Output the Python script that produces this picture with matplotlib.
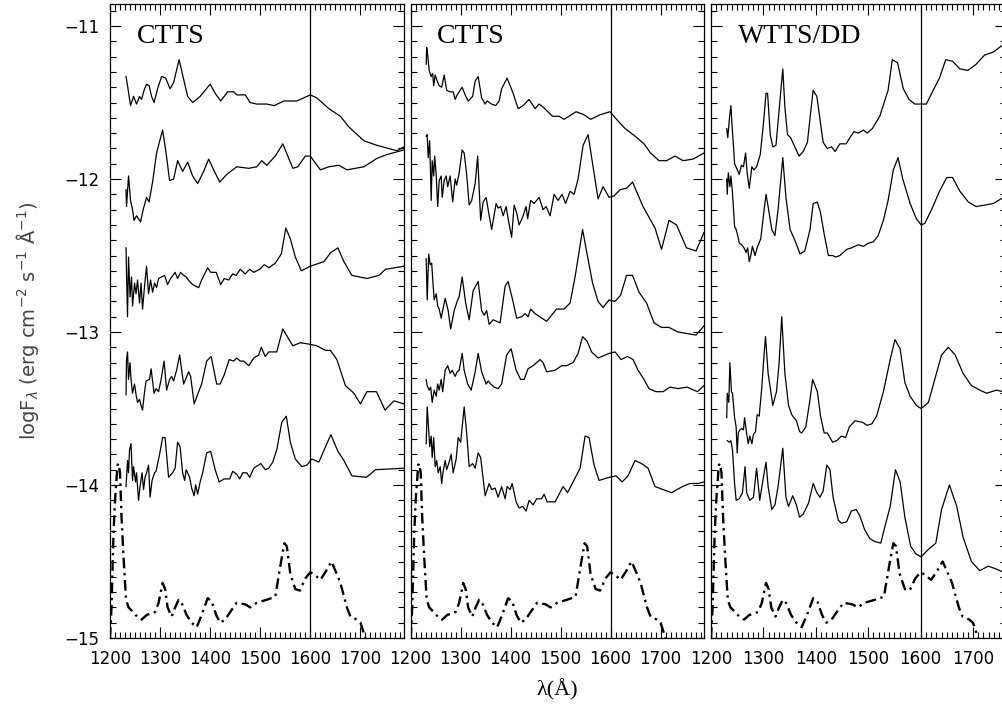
"""Far-UV spectra of CTTS and WTTS/DD, with the template spectrum."""
import matplotlib

matplotlib.use("Agg")
import matplotlib.pyplot as plt
import numpy as np
from matplotlib.ticker import MultipleLocator

# ---- data: (wavelength [A], log flux) ----
template = np.array([
    (1200, -15.0), (1203, -14.80), (1207, -14.32), (1210, -14.10), (1215, -13.87),
    (1217, -13.86), (1220, -13.92), (1223, -14.21), (1227, -14.47), (1232, -14.75),
    (1237, -14.80), (1243, -14.82), (1257, -14.87), (1263, -14.88), (1273, -14.85),
    (1290, -14.83), (1297, -14.77), (1305, -14.64), (1310, -14.68), (1315, -14.80),
    (1323, -14.86), (1330, -14.80), (1337, -14.75), (1343, -14.77), (1353, -14.85),
    (1363, -14.90), (1373, -14.93), (1383, -14.85), (1395, -14.74), (1403, -14.76),
    (1412, -14.85), (1420, -14.90), (1430, -14.88), (1440, -14.83), (1453, -14.77),
    (1470, -14.78), (1480, -14.80), (1493, -14.77), (1513, -14.75), (1530, -14.73),
    (1540, -14.53), (1548, -14.38), (1553, -14.40), (1560, -14.58), (1570, -14.68),
    (1579, -14.69), (1590, -14.61), (1600, -14.57), (1610, -14.59), (1620, -14.62),
    (1630, -14.57), (1642, -14.50), (1650, -14.56), (1660, -14.64), (1673, -14.80),
    (1680, -14.86), (1693, -14.88), (1700, -14.90), (1707, -14.97), (1710, -15.0),
])

ctts1_a = np.array([
    (1232, -11.33), (1235, -11.39), (1241, -11.52), (1247, -11.46), (1253, -11.51),
    (1259, -11.46), (1263, -11.48), (1268, -11.42), (1273, -11.38), (1278, -11.39),
    (1283, -11.46), (1288, -11.50), (1295, -11.41), (1303, -11.33), (1311, -11.34),
    (1320, -11.41), (1327, -11.37), (1338, -11.22), (1345, -11.32), (1355, -11.46),
    (1365, -11.50), (1380, -11.46), (1400, -11.38), (1410, -11.44), (1421, -11.49),
    (1435, -11.43), (1447, -11.43), (1453, -11.45), (1470, -11.45), (1480, -11.50),
    (1493, -11.51), (1513, -11.51), (1528, -11.52), (1547, -11.49), (1573, -11.49),
    (1600, -11.45), (1613, -11.47), (1637, -11.54), (1660, -11.59), (1677, -11.66),
    (1707, -11.75), (1733, -11.78), (1773, -11.815), (1787, -11.79),
])
ctts1_b = np.array([
    (1232, -12.07), (1233, -12.18), (1237, -11.98), (1241, -12.14), (1245, -12.20),
    (1248, -12.27), (1253, -12.24), (1261, -12.28), (1267, -12.19), (1273, -12.12),
    (1278, -12.15), (1285, -12.02), (1293, -11.83), (1305, -11.68), (1312, -11.83),
    (1319, -12.01), (1327, -12.00), (1335, -11.88), (1345, -11.95), (1355, -11.89),
    (1365, -11.98), (1375, -12.03), (1387, -11.95), (1397, -11.87), (1407, -11.94),
    (1419, -12.02), (1433, -11.97), (1453, -11.92), (1477, -11.93), (1493, -11.92),
    (1503, -11.88), (1513, -11.91), (1530, -11.85), (1545, -11.77), (1555, -11.85),
    (1565, -11.93), (1575, -11.92), (1590, -11.85), (1600, -11.85), (1620, -11.94),
    (1637, -11.92), (1657, -11.91), (1673, -11.94), (1707, -11.92), (1733, -11.865),
    (1753, -11.84), (1787, -11.81),
])
ctts1_c = np.array([
    (1232, -12.45), (1233, -12.62), (1235, -12.90), (1237, -12.51), (1240, -12.77),
    (1243, -12.64), (1245, -12.83), (1249, -12.68), (1252, -12.75), (1255, -12.66),
    (1259, -12.81), (1262, -12.68), (1265, -12.85), (1269, -12.70), (1273, -12.57),
    (1277, -12.75), (1281, -12.66), (1285, -12.74), (1289, -12.68), (1293, -12.71),
    (1297, -12.65), (1303, -12.64), (1309, -12.63), (1315, -12.69), (1321, -12.65),
    (1330, -12.61), (1335, -12.65), (1341, -12.61), (1347, -12.63), (1352, -12.64),
    (1359, -12.67), (1365, -12.69), (1377, -12.71), (1383, -12.66), (1395, -12.58),
    (1401, -12.61), (1412, -12.61), (1421, -12.69), (1428, -12.65), (1437, -12.66),
    (1445, -12.62), (1452, -12.63), (1460, -12.59), (1470, -12.62), (1479, -12.59),
    (1487, -12.61), (1499, -12.59), (1508, -12.56), (1517, -12.58), (1530, -12.55),
    (1542, -12.49), (1551, -12.32), (1560, -12.39), (1570, -12.51), (1582, -12.60),
    (1600, -12.57), (1627, -12.54), (1641, -12.48), (1655, -12.45), (1667, -12.54),
    (1683, -12.63), (1713, -12.65), (1737, -12.63), (1750, -12.59), (1787, -12.57),
])
ctts1_d = np.array([
    (1232, -13.41), (1233, -13.18), (1235, -13.13), (1237, -13.31), (1240, -13.20),
    (1242, -13.31), (1245, -13.40), (1249, -13.34), (1252, -13.41), (1255, -13.46),
    (1259, -13.44), (1262, -13.48), (1265, -13.51), (1269, -13.39), (1272, -13.32),
    (1279, -13.31), (1282, -13.24), (1288, -13.40), (1292, -13.37), (1297, -13.39),
    (1302, -13.31), (1308, -13.19), (1313, -13.38), (1319, -13.31), (1323, -13.29),
    (1327, -13.32), (1333, -13.25), (1339, -13.15), (1347, -13.34), (1357, -13.26),
    (1361, -13.29), (1368, -13.47), (1377, -13.39), (1383, -13.34), (1393, -13.19),
    (1402, -13.16), (1413, -13.34), (1420, -13.34), (1428, -13.28), (1438, -13.18),
    (1447, -13.19), (1453, -13.17), (1460, -13.19), (1467, -13.19), (1477, -13.22),
    (1487, -13.17), (1497, -13.15), (1502, -13.10), (1510, -13.16), (1517, -13.13),
    (1533, -13.13), (1545, -12.98), (1565, -13.09), (1580, -13.07), (1599, -13.08),
    (1613, -13.09), (1630, -13.12), (1640, -13.12), (1653, -13.18), (1670, -13.35),
    (1687, -13.40), (1700, -13.47), (1713, -13.39), (1732, -13.39), (1749, -13.51),
    (1767, -13.45), (1787, -13.47),
])
ctts1_e = np.array([
    (1232, -14.01), (1235, -13.84), (1237, -13.92), (1239, -13.77), (1242, -13.73),
    (1245, -13.97), (1247, -13.88), (1251, -13.98), (1253, -13.92), (1257, -14.10),
    (1260, -14.01), (1264, -13.92), (1267, -14.03), (1270, -13.95), (1273, -13.92),
    (1277, -13.87), (1280, -14.08), (1284, -13.97), (1289, -13.92), (1292, -13.91),
    (1299, -13.80), (1305, -13.69), (1310, -13.69), (1317, -13.95), (1325, -13.92),
    (1330, -13.89), (1335, -13.72), (1340, -13.75), (1345, -13.92), (1349, -13.97),
    (1352, -13.90), (1359, -13.95), (1363, -14.02), (1368, -14.07), (1371, -14.00),
    (1375, -14.06), (1380, -13.98), (1385, -13.92), (1393, -13.79), (1401, -13.78),
    (1410, -13.90), (1418, -13.98), (1428, -13.96), (1439, -13.96), (1445, -13.91),
    (1453, -13.93), (1459, -13.96), (1465, -13.92), (1473, -13.92), (1479, -13.95),
    (1487, -13.89), (1501, -13.86), (1510, -13.90), (1517, -13.89), (1525, -13.85),
    (1533, -13.77), (1543, -13.59), (1552, -13.55), (1560, -13.72), (1570, -13.83),
    (1583, -13.88), (1593, -13.87), (1603, -13.83), (1617, -13.85), (1641, -13.67),
    (1655, -13.78), (1667, -13.84), (1683, -13.94), (1712, -13.95), (1730, -13.90),
    (1787, -13.89),
])

ctts2_a = np.array([
    (1231, -11.25), (1232, -11.14), (1234, -11.19), (1237, -11.29), (1241, -11.33),
    (1244, -11.31), (1246, -11.39), (1249, -11.32), (1253, -11.36), (1257, -11.39),
    (1262, -11.40), (1267, -11.32), (1272, -11.42), (1279, -11.43), (1285, -11.43),
    (1289, -11.48), (1293, -11.45), (1299, -11.42), (1303, -11.40), (1309, -11.45),
    (1315, -11.49), (1324, -11.46), (1329, -11.36), (1335, -11.33), (1342, -11.47),
    (1349, -11.51), (1353, -11.49), (1362, -11.51), (1370, -11.52), (1377, -11.49),
    (1382, -11.41), (1393, -11.34), (1405, -11.44), (1415, -11.54), (1425, -11.52),
    (1437, -11.48), (1449, -11.54), (1457, -11.51), (1465, -11.53), (1484, -11.59),
    (1497, -11.59), (1507, -11.61), (1531, -11.56), (1547, -11.58), (1560, -11.61),
    (1579, -11.58), (1599, -11.56), (1612, -11.61), (1629, -11.67), (1649, -11.72),
    (1667, -11.77), (1680, -11.83), (1697, -11.88), (1712, -11.88), (1729, -11.85),
    (1745, -11.88), (1765, -11.87), (1787, -11.83),
])
ctts2_b = np.array([
    (1231, -11.72), (1233, -11.71), (1235, -11.86), (1238, -11.75), (1241, -12.14),
    (1243, -11.88), (1246, -11.98), (1248, -11.85), (1251, -11.97), (1254, -12.18),
    (1257, -12.01), (1261, -11.98), (1263, -12.12), (1267, -12.01), (1271, -11.98),
    (1274, -12.05), (1279, -11.98), (1284, -12.15), (1289, -12.00), (1292, -12.04),
    (1297, -11.96), (1303, -11.81), (1307, -11.83), (1311, -11.94), (1313, -12.01),
    (1317, -12.17), (1322, -12.14), (1329, -12.03), (1334, -11.85), (1340, -12.27),
    (1345, -12.15), (1351, -12.12), (1355, -12.20), (1362, -12.33), (1371, -12.16),
    (1375, -12.19), (1380, -12.18), (1385, -12.24), (1391, -12.18), (1395, -12.26),
    (1402, -12.38), (1407, -12.17), (1412, -12.22), (1417, -12.30), (1424, -12.25),
    (1431, -12.18), (1434, -12.26), (1440, -12.14), (1447, -12.16), (1457, -12.12),
    (1465, -12.20), (1471, -12.18), (1479, -12.24), (1487, -12.10), (1495, -12.14),
    (1503, -12.10), (1510, -12.16), (1519, -12.08), (1527, -12.10), (1535, -12.00),
    (1545, -11.78), (1555, -11.71), (1565, -11.92), (1575, -12.13), (1585, -12.05),
    (1597, -12.12), (1607, -12.11), (1619, -12.07), (1632, -12.06), (1644, -12.02),
    (1665, -12.18), (1689, -12.32), (1702, -12.46), (1717, -12.27), (1732, -12.30),
    (1752, -12.45), (1771, -12.47), (1787, -12.35),
])
ctts2_c = np.array([
    (1231, -12.52), (1233, -12.79), (1236, -12.49), (1239, -12.56), (1242, -12.55),
    (1245, -12.70), (1247, -12.79), (1251, -12.75), (1254, -12.83), (1257, -12.85),
    (1261, -12.91), (1264, -12.86), (1269, -12.78), (1275, -12.86), (1280, -12.98),
    (1287, -12.86), (1293, -12.80), (1297, -12.77), (1303, -12.64), (1310, -12.81),
    (1317, -12.92), (1325, -12.73), (1335, -12.67), (1342, -12.86), (1347, -12.89),
    (1352, -12.86), (1357, -12.95), (1365, -12.92), (1379, -12.94), (1389, -12.70),
    (1395, -12.67), (1404, -12.79), (1412, -12.91), (1422, -12.90), (1429, -12.88),
    (1435, -12.90), (1440, -12.85), (1449, -12.88), (1472, -12.93), (1492, -12.85),
    (1507, -12.85), (1519, -12.81), (1529, -12.64), (1544, -12.33), (1553, -12.49),
    (1564, -12.68), (1575, -12.80), (1585, -12.84), (1597, -12.79), (1609, -12.80),
    (1620, -12.76), (1632, -12.63), (1644, -12.63), (1657, -12.74), (1672, -12.81),
    (1687, -12.94), (1702, -12.97), (1717, -12.97), (1735, -13.00), (1771, -13.02),
    (1787, -12.96),
])
ctts2_d = np.array([
    (1231, -13.31), (1233, -13.35), (1237, -13.38), (1240, -13.36), (1243, -13.46),
    (1247, -13.38), (1251, -13.42), (1254, -13.34), (1257, -13.38), (1261, -13.31),
    (1264, -13.39), (1269, -13.25), (1274, -13.22), (1279, -13.27), (1283, -13.25),
    (1289, -13.29), (1293, -13.26), (1297, -13.25), (1303, -13.14), (1307, -13.25),
    (1314, -13.34), (1321, -13.38), (1329, -13.26), (1335, -13.14), (1342, -13.26),
    (1351, -13.34), (1355, -13.32), (1360, -13.34), (1367, -13.36), (1375, -13.37),
    (1382, -13.34), (1392, -13.15), (1401, -13.11), (1411, -13.25), (1420, -13.31),
    (1427, -13.31), (1435, -13.24), (1445, -13.22), (1459, -13.18), (1465, -13.20),
    (1472, -13.26), (1489, -13.25), (1502, -13.22), (1512, -13.22), (1525, -13.20),
    (1535, -13.14), (1544, -13.03), (1553, -13.06), (1562, -13.13), (1575, -13.17),
    (1597, -13.14), (1609, -13.13), (1621, -13.18), (1634, -13.16), (1645, -13.18),
    (1655, -13.25), (1665, -13.30), (1677, -13.37), (1691, -13.39), (1705, -13.39),
    (1719, -13.36), (1735, -13.37), (1753, -13.36), (1774, -13.39), (1787, -13.35),
])
ctts2_e = np.array([
    (1231, -13.73), (1233, -13.49), (1236, -13.64), (1238, -13.75), (1241, -13.68),
    (1243, -13.82), (1246, -13.69), (1249, -13.88), (1252, -13.84), (1255, -13.92),
    (1259, -13.88), (1262, -13.99), (1265, -13.91), (1269, -13.84), (1272, -13.90),
    (1277, -13.85), (1281, -13.80), (1285, -13.92), (1291, -13.83), (1295, -13.69),
    (1300, -13.72), (1307, -13.49), (1312, -13.66), (1317, -13.88), (1324, -13.86),
    (1329, -13.89), (1335, -13.79), (1340, -13.82), (1349, -14.07), (1357, -13.99),
    (1362, -14.03), (1369, -14.02), (1375, -14.08), (1382, -14.01), (1389, -14.09),
    (1393, -14.01), (1399, -14.03), (1403, -13.99), (1411, -14.11), (1417, -14.15),
    (1424, -14.14), (1431, -14.17), (1437, -14.10), (1445, -14.13), (1452, -14.09),
    (1462, -14.09), (1467, -14.06), (1473, -14.11), (1489, -14.11), (1505, -14.01),
    (1514, -14.05), (1525, -13.98), (1539, -13.89), (1549, -13.68), (1557, -13.69),
    (1567, -13.87), (1577, -13.97), (1597, -13.95), (1611, -13.94), (1623, -13.98),
    (1635, -13.94), (1649, -13.84), (1662, -13.86), (1675, -13.89), (1689, -14.01),
    (1705, -14.03), (1722, -14.05), (1744, -14.01), (1759, -13.99), (1775, -13.99),
    (1787, -13.98),
])

wtts_a = np.array([
    (1230, -11.67), (1232, -11.73), (1235, -11.61), (1238, -11.52), (1240, -11.64),
    (1243, -11.79), (1245, -11.90), (1249, -11.93), (1254, -11.97), (1258, -11.91),
    (1262, -11.92), (1266, -11.83), (1269, -11.96), (1273, -12.06), (1278, -11.92),
    (1282, -11.94), (1287, -11.92), (1294, -11.84), (1300, -11.64), (1305, -11.44),
    (1308, -11.44), (1313, -11.71), (1318, -11.79), (1324, -11.78), (1330, -11.55),
    (1337, -11.28), (1341, -11.53), (1346, -11.71), (1352, -11.73), (1360, -11.79),
    (1368, -11.85), (1376, -11.82), (1384, -11.76), (1390, -11.57), (1395, -11.42),
    (1402, -11.46), (1408, -11.61), (1414, -11.76), (1422, -11.80), (1430, -11.79),
    (1437, -11.82), (1446, -11.77), (1458, -11.77), (1465, -11.73), (1473, -11.69),
    (1481, -11.70), (1491, -11.68), (1498, -11.70), (1508, -11.67), (1522, -11.59),
    (1538, -11.42), (1546, -11.22), (1556, -11.24), (1567, -11.41), (1578, -11.48),
    (1589, -11.51), (1601, -11.51), (1611, -11.51), (1624, -11.42), (1636, -11.34),
    (1648, -11.22), (1661, -11.23), (1675, -11.28), (1690, -11.29), (1706, -11.25),
    (1722, -11.19), (1739, -11.17), (1758, -11.12),
])
wtts_b = np.array([
    (1230, -12.00), (1231, -12.10), (1233, -11.96), (1236, -12.05), (1238, -11.98),
    (1241, -12.09), (1245, -12.31), (1248, -12.33), (1251, -12.37), (1254, -12.42),
    (1259, -12.43), (1263, -12.45), (1267, -12.48), (1270, -12.45), (1273, -12.54),
    (1276, -12.50), (1279, -12.44), (1284, -12.50), (1288, -12.45), (1295, -12.39),
    (1300, -12.24), (1305, -12.10), (1309, -12.18), (1316, -12.33), (1322, -12.37),
    (1328, -12.20), (1337, -11.86), (1343, -12.12), (1351, -12.33), (1360, -12.40),
    (1370, -12.49), (1379, -12.47), (1389, -12.33), (1395, -12.16), (1403, -12.15),
    (1409, -12.22), (1416, -12.36), (1424, -12.50), (1432, -12.50), (1438, -12.51),
    (1446, -12.50), (1459, -12.46), (1468, -12.45), (1481, -12.43), (1491, -12.44),
    (1500, -12.42), (1510, -12.41), (1519, -12.37), (1529, -12.27), (1538, -12.14),
    (1548, -11.94), (1557, -11.86), (1566, -12.00), (1580, -12.16), (1592, -12.26),
    (1601, -12.30), (1608, -12.29), (1621, -12.20), (1636, -12.08), (1650, -11.99),
    (1661, -11.99), (1675, -12.08), (1691, -12.15), (1706, -12.18), (1723, -12.17),
    (1739, -12.16), (1758, -12.12),
])
wtts_c = np.array([
    (1230, -13.56), (1231, -13.40), (1234, -13.46), (1236, -13.20), (1239, -13.39),
    (1241, -13.40), (1245, -13.56), (1248, -13.62), (1250, -13.79), (1252, -13.66),
    (1255, -13.64), (1259, -13.63), (1262, -13.64), (1264, -13.56), (1268, -13.66),
    (1271, -13.73), (1274, -13.68), (1278, -13.73), (1281, -13.67), (1285, -13.65),
    (1288, -13.54), (1292, -13.55), (1297, -13.36), (1301, -13.16), (1304, -13.03),
    (1309, -13.27), (1318, -13.48), (1325, -13.39), (1330, -13.20), (1335, -12.90),
    (1341, -13.27), (1348, -13.48), (1354, -13.54), (1363, -13.58), (1369, -13.65),
    (1373, -13.66), (1381, -13.62), (1389, -13.44), (1394, -13.31), (1403, -13.39),
    (1409, -13.55), (1416, -13.66), (1422, -13.66), (1432, -13.72), (1440, -13.71),
    (1449, -13.68), (1457, -13.69), (1464, -13.62), (1475, -13.58), (1489, -13.59),
    (1498, -13.61), (1507, -13.60), (1516, -13.55), (1529, -13.39), (1542, -13.18),
    (1551, -13.05), (1561, -13.11), (1570, -13.33), (1580, -13.42), (1592, -13.48),
    (1601, -13.50), (1615, -13.46), (1627, -13.31), (1640, -13.15), (1653, -13.10),
    (1666, -13.15), (1681, -13.27), (1697, -13.35), (1713, -13.38), (1726, -13.40),
    (1745, -13.38), (1758, -13.39),
])
wtts_d = np.array([
    (1231, -13.71), (1235, -13.72), (1238, -13.71), (1241, -13.77), (1245, -13.99),
    (1248, -14.10), (1254, -14.09), (1260, -14.05), (1265, -13.88), (1268, -14.05),
    (1274, -14.10), (1281, -14.08), (1287, -13.89), (1293, -14.10), (1300, -13.95),
    (1305, -13.85), (1309, -14.01), (1316, -14.16), (1322, -14.13), (1328, -14.01),
    (1337, -13.76), (1343, -14.08), (1348, -14.14), (1356, -14.07), (1363, -14.13),
    (1369, -14.21), (1376, -14.19), (1386, -14.12), (1395, -13.99), (1402, -14.05),
    (1408, -14.08), (1414, -14.04), (1421, -13.87), (1427, -13.90), (1433, -14.08),
    (1443, -14.23), (1449, -14.25), (1459, -14.24), (1468, -14.17), (1477, -14.16),
    (1484, -14.20), (1493, -14.29), (1503, -14.35), (1513, -14.37), (1524, -14.38),
    (1532, -14.27), (1542, -14.14), (1552, -13.90), (1561, -13.98), (1570, -14.21),
    (1581, -14.40), (1591, -14.45), (1601, -14.47), (1615, -14.42), (1629, -14.38),
    (1640, -14.16), (1655, -14.00), (1669, -14.14), (1681, -14.34), (1697, -14.50),
    (1713, -14.56), (1729, -14.53), (1745, -14.55), (1758, -14.57),
])

panel_spectra = [
    [ctts1_a, ctts1_b, ctts1_c, ctts1_d, ctts1_e],
    [ctts2_a, ctts2_b, ctts2_c, ctts2_d, ctts2_e],
    [wtts_a, wtts_b, wtts_c, wtts_d],
]
panel_labels = ["CTTS", "CTTS", "WTTS/DD"]
panel_xmax = [1787, 1787, 1763]
x_ticks = [1200, 1300, 1400, 1500, 1600, 1700]
y_ticks = [-15, -14, -13, -12, -11]
line_wl = 1600

W, H = 1003, 715
# axes boxes in pixels: left, right (top=4, bottom=638)
boxes = [(110, 404), (410.7, 704), (711, 1006)]
top_px, bot_px = 4, 638

fig = plt.figure(figsize=(W / 100, H / 100), dpi=100)

for i, (spectra, label, xmax, (lpx, rpx)) in enumerate(
    zip(panel_spectra, panel_labels, panel_xmax, boxes)
):
    ax = fig.add_axes([lpx / W, (H - bot_px) / H, (rpx - lpx) / W, (bot_px - top_px) / H])
    for s in spectra:
        ax.plot(s[:, 0], s[:, 1], color="black", lw=0.9)
    ax.plot(template[:, 0], template[:, 1], color="black", lw=1.7,
            linestyle=(0, (4.5, 2, 1, 2)))
    ax.axvline(line_wl, color="black", lw=0.9)

    ax.set_xlim(1200, xmax)
    ax.set_ylim(-15, -10.856)
    ax.set_xticks(x_ticks)
    ax.set_yticks(y_ticks)
    ax.xaxis.set_minor_locator(MultipleLocator(10))
    ax.yaxis.set_minor_locator(MultipleLocator(0.1))
    ax.tick_params(which="both", direction="in", top=True, right=True, width=0.8)
    ax.tick_params(which="major", length=8)
    ax.tick_params(which="minor", length=4)
    ax.tick_params(axis="x", pad=9, labelsize=12)
    ax.tick_params(axis="y", pad=8, labelsize=12)
    if i > 0:
        ax.set_yticklabels([])
    for sp in ax.spines.values():
        sp.set_linewidth(0.9)

    ax.text(0.09, 0.939, label, transform=ax.transAxes, ha="left", va="baseline",
            family="Liberation Serif", fontsize=20)

fig.text(28 / W, 1 - 321 / H,
         r"logF$_\lambda$ (erg cm$^{-2}$ s$^{-1}$ $\rm\AA^{-1}$)",
         rotation=90, ha="center", va="center", fontsize=14, color="#444444")
fig.text(557 / W, 1 - 690 / H, "λ(Å)", ha="center", va="center",
         fontsize=16, family="Liberation Serif")

fig.savefig("out.png", dpi=100)
